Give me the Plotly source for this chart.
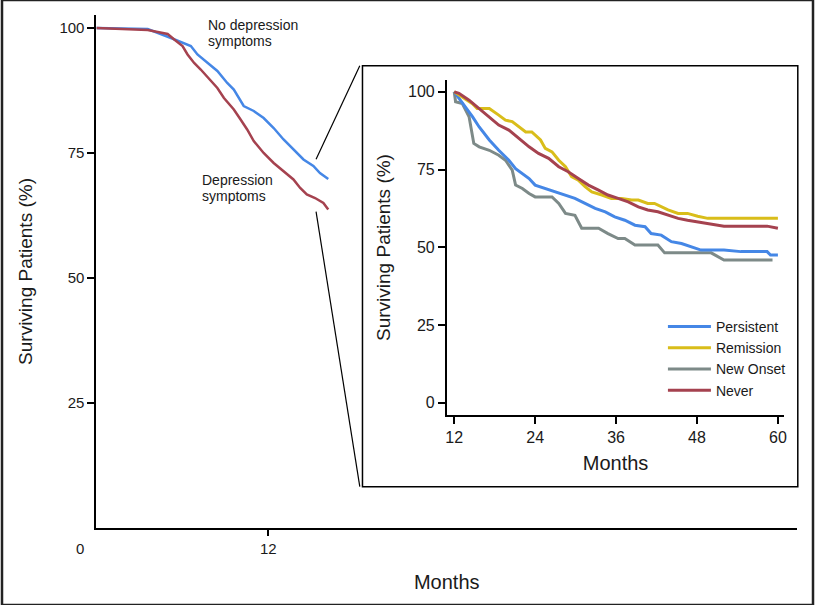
import plotly.graph_objects as go

W, H = 816, 605

# ---- Main panel data (months, % surviving) ----
main_no_dep_x = [0, 3.58, 5.2, 6.01, 6.59, 7.05, 7.75, 8.44, 9.13, 9.59, 10.28, 10.98, 11.67, 12.37, 13.06, 13.75, 14.45, 15.14, 15.6, 16.18]
main_no_dep_y = [100, 99.8, 98.0, 97.0, 96.4, 94.7, 93.0, 91.4, 89.0, 87.7, 84.4, 83.4, 82.0, 80.0, 77.7, 75.7, 73.7, 72.4, 71.0, 69.8]
main_dep_x = [0, 2.66, 3.58, 4.28, 4.97, 5.43, 6.01, 6.36, 6.82, 7.28, 7.97, 8.44, 8.90, 9.59, 10.06, 10.52, 10.98, 11.67, 12.37, 13.06, 13.75, 14.22, 14.68, 15.26, 15.84, 16.18]
main_dep_y = [100, 99.8, 99.6, 99.2, 98.8, 97.7, 96.4, 94.7, 93.0, 91.7, 89.4, 88.0, 86.0, 83.7, 81.7, 79.7, 77.4, 75.0, 73.0, 71.4, 69.7, 68.0, 66.7, 66.0, 65.0, 63.7]

# ---- Inset data ----
persistent_x = [12, 12.7, 13.7, 14.7, 15.7, 17.2, 18.6, 20.1, 21.1, 22.1, 23.1, 24.0, 25.5, 27.0, 28.5, 29.9, 31.4, 32.9, 34.4, 35.8, 37.3, 38.8, 40.3, 41.2, 42.7, 44.2, 45.7, 47.1, 48.6, 52.0, 54.5, 58.4, 58.9, 60]
persistent_y = [100, 97.9, 95.2, 92.0, 88.7, 84.5, 81.2, 78.0, 75.3, 73.7, 72.1, 70.0, 68.9, 67.8, 66.8, 65.7, 64.1, 62.5, 61.4, 59.8, 58.7, 57.1, 56.6, 54.4, 53.9, 51.8, 51.2, 50.2, 49.1, 49.1, 48.6, 48.6, 47.5, 47.5]
remission_x = [12, 13.2, 14.7, 15.4, 17.2, 18.6, 19.6, 20.6, 21.6, 22.6, 23.5, 24.8, 25.5, 26.5, 27.5, 28.5, 29.4, 30.4, 31.4, 32.4, 33.9, 35.3, 36.8, 38.3, 39.3, 40.7, 41.7, 42.7, 43.7, 45.2, 46.6, 48.1, 49.6, 60]
remission_y = [100, 98.4, 96.2, 94.6, 94.6, 92.5, 90.9, 90.4, 88.7, 87.1, 87.1, 84.5, 81.8, 80.7, 78.0, 75.9, 72.7, 71.6, 69.5, 67.8, 66.8, 65.7, 65.7, 65.2, 65.2, 64.1, 64.1, 63.0, 62.0, 60.9, 60.9, 60.0, 59.3, 59.3]
new_onset_x = [12, 12.2, 13.2, 14.2, 14.9, 15.7, 17.2, 18.6, 19.6, 20.6, 21.1, 22.1, 23.1, 24.0, 26.5, 27.5, 28.5, 29.9, 30.9, 33.4, 34.8, 36.3, 37.3, 38.8, 42.2, 43.2, 50.1, 51.1, 52.0, 59.2]
new_onset_y = [100, 96.8, 96.2, 92.0, 83.4, 82.3, 81.2, 79.6, 78.0, 74.8, 70.0, 68.9, 67.3, 66.2, 66.2, 64.1, 60.9, 60.3, 56.1, 56.1, 54.4, 52.8, 52.8, 50.7, 50.7, 48.2, 48.2, 46.9, 45.9, 45.9]
never_x = [12, 12.7, 14.2, 15.7, 17.2, 18.6, 20.1, 21.6, 23.1, 24.5, 26.0, 27.5, 28.9, 30.4, 31.9, 33.4, 34.8, 36.3, 37.8, 39.3, 40.7, 42.2, 43.7, 45.2, 46.6, 48.1, 49.6, 51.1, 52.0, 58.4, 60]
never_y = [100, 99.5, 97.3, 94.6, 92.0, 89.3, 87.7, 85.0, 82.3, 80.2, 78.6, 75.9, 74.3, 72.1, 70.0, 68.4, 66.8, 65.7, 64.6, 63.0, 62.0, 61.4, 60.3, 59.3, 58.7, 58.2, 57.7, 57.1, 56.8, 56.8, 56.1]

main_yticks = [25, 50, 75, 100]
main_xticks = [12]
inset_yticks = [0, 25, 50, 75, 100]
inset_xticks = [12, 24, 36, 48, 60]

BLUE = "#4587e6"
RED = "#a5424f"
YELLOW = "#d9bd1a"
GRAY = "#7d8a88"
TXT = "#1a1a1a"
FONT = "Liberation Sans, Arial, sans-serif"


def px(x):
    return x / W


def py(y):
    return 1 - y / H


fig = go.Figure()

fig.add_trace(go.Scatter(x=main_no_dep_x, y=main_no_dep_y, mode="lines",
                         line=dict(color=BLUE, width=2.5), showlegend=False,
                         xaxis="x", yaxis="y"))
fig.add_trace(go.Scatter(x=main_dep_x, y=main_dep_y, mode="lines",
                         line=dict(color=RED, width=2.5), showlegend=False,
                         xaxis="x", yaxis="y"))

fig.add_trace(go.Scatter(x=new_onset_x, y=new_onset_y, mode="lines", name="New Onset",
                         line=dict(color=GRAY, width=3), legendrank=3,
                         xaxis="x2", yaxis="y2"))
fig.add_trace(go.Scatter(x=persistent_x, y=persistent_y, mode="lines", name="Persistent",
                         line=dict(color=BLUE, width=3), legendrank=1,
                         xaxis="x2", yaxis="y2"))
fig.add_trace(go.Scatter(x=remission_x, y=remission_y, mode="lines", name="Remission",
                         line=dict(color=YELLOW, width=3), legendrank=2,
                         xaxis="x2", yaxis="y2"))
fig.add_trace(go.Scatter(x=never_x, y=never_y, mode="lines", name="Never",
                         line=dict(color=RED, width=3), legendrank=4,
                         xaxis="x2", yaxis="y2"))

axis_common = dict(showgrid=False, zeroline=False, showline=True, linecolor="black",
                   linewidth=2, ticks="outside", tickcolor="black", tickwidth=1.5,
                   fixedrange=True)

fig.update_layout(
    width=W, height=H,
    margin=dict(l=0, r=0, t=0, b=0),
    paper_bgcolor="white", plot_bgcolor="rgba(0,0,0,0)",
    font=dict(family=FONT, color=TXT),
    xaxis=dict(domain=[px(95), px(800)], range=[0, 48.9], tickvals=main_xticks,
               ticklen=6, tickfont=dict(size=15), anchor="y",
               title=dict(text="Months", font=dict(size=20), standoff=19),
               **axis_common),
    yaxis=dict(domain=[py(528), py(15)], range=[0, 102.6], tickvals=main_yticks,
               ticklen=7, tickfont=dict(size=15), anchor="x",
               title=dict(text="Surviving Patients (%)", font=dict(size=19), standoff=22),
               **axis_common),
    xaxis2=dict(domain=[px(447.7), px(787)], range=[10.92, 60.93], tickvals=inset_xticks,
                ticklen=7, tickfont=dict(size=16), anchor="y2",
                title=dict(text="Months", font=dict(size=20), standoff=11),
                **axis_common),
    yaxis2=dict(domain=[py(415), py(80)], range=[-3.95, 103.8], tickvals=inset_yticks,
                ticklen=7, tickfont=dict(size=16), anchor="x2",
                title=dict(text="Surviving Patients (%)", font=dict(size=19), standoff=12),
                **axis_common),
    legend=dict(x=px(665), y=py(311), xanchor="left", yanchor="top",
                bgcolor="rgba(0,0,0,0)", font=dict(size=14, color=TXT),
                itemwidth=43, tracegroupgap=0),
    showlegend=True,
)

shapes = [
    # inset frame
    dict(type="rect", xref="paper", yref="paper", x0=px(362.7), x1=px(800.7),
         y0=py(486.7), y1=py(65.7), line=dict(color="black", width=1.5),
         fillcolor="white", layer="below"),
    # connector lines
    dict(type="line", xref="paper", yref="paper", x0=px(316), y0=py(159.3),
         x1=px(360), y1=py(65.7), line=dict(color="black", width=1.2)),
    dict(type="line", xref="paper", yref="paper", x0=px(316), y0=py(211.7),
         x1=px(360), y1=py(486.7), line=dict(color="black", width=1.2)),
    # outer frame
    dict(type="rect", xref="paper", yref="paper", x0=0, x1=1, y0=0, y1=1,
         line=dict(color="#222222", width=2.5), layer="above"),
]
fig.update_layout(shapes=shapes)


def label(text, x, y):
    return dict(text=text, xref="paper", yref="paper", x=px(x), y=py(y),
                xanchor="left", yanchor="middle", align="left",
                showarrow=False, font=dict(size=14, color=TXT))


annotations = [
    label("No depression", 205, 25),
    label("symptoms", 205, 41),
    label("Depression", 199, 180),
    label("symptoms", 199, 196),
    dict(text="0", xref="paper", yref="paper", x=px(78), y=py(548),
         xanchor="center", yanchor="middle", showarrow=False,
         font=dict(size=15, color=TXT)),
]
fig.update_layout(annotations=annotations)

fig.write_html(
    "out.html",
    config={"displayModeBar": False},
    post_script="document.body.style.margin='0';document.body.style.overflow='hidden';",
)
